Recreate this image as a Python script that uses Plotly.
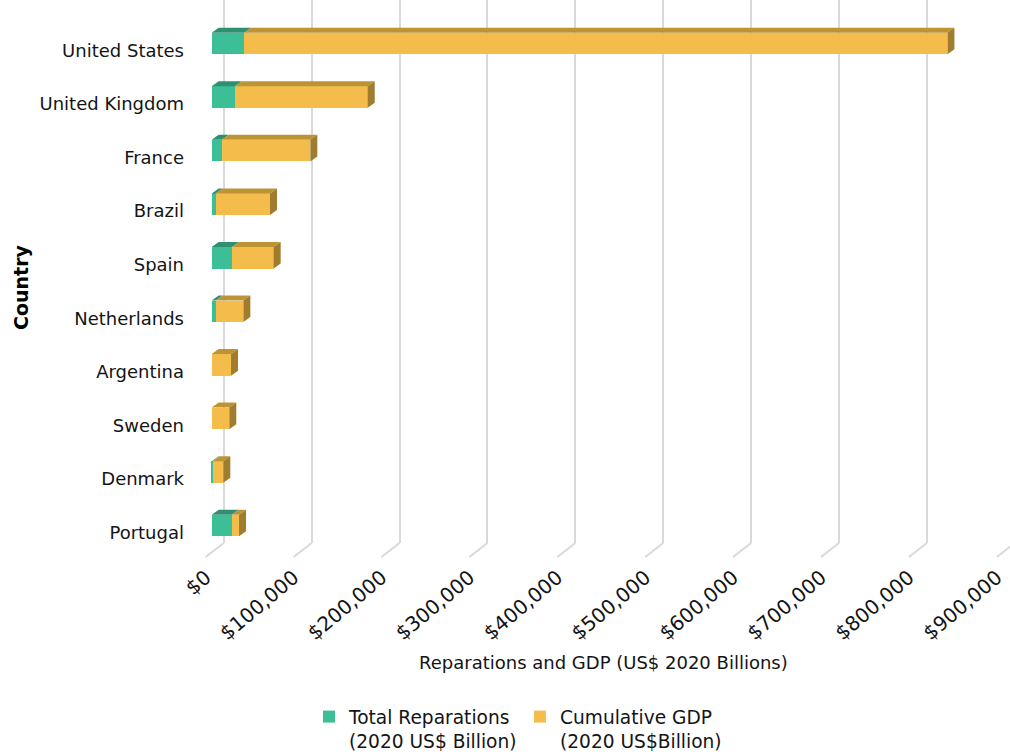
import plotly.graph_objects as go

# ---- data (US$ 2020 billions) ----
countries = ["United States", "United Kingdom", "France", "Brazil", "Spain",
             "Netherlands", "Argentina", "Sweden", "Denmark", "Portugal"]
reparations = [37000, 26500, 11400, 4600, 23100, 4600, 0, 0, 1000, 22800]
cumulative_gdp = [800000, 151000, 100800, 61700, 47400, 31400, 22000, 20000, 12200, 8300]
tick_values = [0, 100000, 200000, 300000, 400000, 500000, 600000, 700000, 800000, 900000]

series_names = ["Total Reparations<br>(2020 US$ Billion)", "Cumulative GDP<br>(2020 US$Billion)"]
x_title = "Reparations and GDP (US$ 2020 Billions)"
y_title = "Country"

# ---- colours ----
GREEN, GREEN_TOP = "#3CBE97", "#2E8F71"
YELLOW, YELLOW_TOP, YELLOW_SIDE = "#F4BD4B", "#BE9334", "#9F7C2E"
GRID = "#D9D9D9"
TEXT = "#141414"
FONT = "DejaVu Sans"

# ---- page geometry (px) ----
W, H = 1010, 755
L, R, T, B = 195, 1010, 0, 543
px_per_unit = 0.000879          # horizontal pixels per billion
front_origin = 211.7            # x pixel of zero on the bars' front plane
wall_shift = 12                 # back wall offset of the gridlines
floor_shift = -5.7              # front edge of the floor (tick labels)
row0, row_step = 43.5, 53.56    # y pixel of first row centre, row spacing
bar_px = 21.6                   # front-face thickness
depth_dx, depth_dy = 7, 5       # oblique depth of each bar

x_range = [(L - front_origin) / px_per_unit, (R - front_origin) / px_per_unit]
x_wall = [(L - front_origin - wall_shift) / px_per_unit, (R - front_origin - wall_shift) / px_per_unit]
x_floor = [(L - front_origin - floor_shift) / px_per_unit, (R - front_origin - floor_shift) / px_per_unit]
y_range = [(B - row0) / row_step, (T - row0) / row_step]

rows = list(range(len(countries)))
bar_w = bar_px / row_step
dx = depth_dx / px_per_unit
dy = depth_dy / row_step


def paper_x(px):
    return (px - L) / (R - L)


def paper_y(py):
    return (B - py) / (B - T)


def top_faces(starts, ends):
    xs, ys = [], []
    for i, a, b in zip(rows, starts, ends):
        if b - a <= 0:
            continue
        yt = i - bar_w / 2
        xs += [a, b, b + dx, a + dx, a, None]
        ys += [yt, yt, yt - dy, yt - dy, yt, None]
    return xs, ys


def side_faces(ends):
    xs, ys = [], []
    for i, b in zip(rows, ends):
        yt, yb = i - bar_w / 2, i + bar_w / 2
        xs += [b, b, b + dx, b + dx, b, None]
        ys += [yt, yb, yb - dy, yt - dy, yt, None]
    return xs, ys


totals = [r + g for r, g in zip(reparations, cumulative_gdp)]

fig = go.Figure()

fig.add_trace(go.Bar(y=rows, x=reparations, orientation="h", name=series_names[0],
                     marker=dict(color=GREEN, line=dict(width=0)), width=bar_w))
fig.add_trace(go.Bar(y=rows, x=cumulative_gdp, orientation="h", name=series_names[1],
                     marker=dict(color=YELLOW, line=dict(width=0)), width=bar_w))

for (xs, ys), col in [(top_faces([0] * len(rows), reparations), GREEN_TOP),
                      (top_faces(reparations, totals), YELLOW_TOP),
                      (side_faces(totals), YELLOW_SIDE)]:
    fig.add_trace(go.Scatter(x=xs, y=ys, mode="lines", fill="toself", fillcolor=col,
                             line=dict(width=0, color=col), showlegend=False,
                             hoverinfo="skip"))

# helper traces so the overlay axes exist
fig.add_trace(go.Scatter(x=[None], y=[None], xaxis="x2", showlegend=False, hoverinfo="skip"))
fig.add_trace(go.Scatter(x=[None], y=[None], xaxis="x3", showlegend=False, hoverinfo="skip"))

# floor edges of the gridlines
for v in tick_values:
    fig.add_shape(type="line", xref="x2", yref="paper", xsizemode="pixel", ysizemode="pixel",
                  xanchor=v, yanchor=0, x0=0, x1=-18, y0=0, y1=-14,
                  line=dict(color=GRID, width=2), layer="below")

# axis titles
fig.add_annotation(text=x_title, xref="paper", yref="paper",
                   x=paper_x(603), y=paper_y(662), xanchor="center", yanchor="middle",
                   showarrow=False, font=dict(size=18, color=TEXT))
fig.add_annotation(text="<b>" + y_title + "</b>", xref="paper", yref="paper",
                   x=paper_x(21), y=paper_y(287), xanchor="center", yanchor="middle",
                   textangle=-90, showarrow=False, font=dict(size=19, color="#000000"))

fig.update_layout(
    width=W, height=H,
    margin=dict(l=L, r=W - R, t=T, b=H - B),
    barmode="stack", bargap=0,
    plot_bgcolor="white", paper_bgcolor="white",
    font=dict(family=FONT, color=TEXT, size=16),
    xaxis=dict(range=x_range, showgrid=False, zeroline=False, showticklabels=False,
               showline=False, ticks=""),
    xaxis2=dict(range=x_wall, overlaying="x", showgrid=True, gridcolor=GRID, gridwidth=2,
                tickvals=tick_values, showticklabels=False, zeroline=False, showline=False),
    xaxis3=dict(range=x_floor, overlaying="x", side="bottom", showgrid=False, zeroline=False,
                tickvals=tick_values, tickformat="$,.0f", tickangle=-40, ticks="",
                ticklabelstandoff=18, tickfont=dict(size=20)),
    yaxis=dict(range=y_range, tickvals=rows, ticktext=countries, showgrid=False,
               zeroline=False, showline=False, ticks="", ticklabelstandoff=10,
               ticklabelshift=-7, tickfont=dict(size=18)),
    legend=dict(orientation="h", xref="container", yref="container", x=520 / W,
                xanchor="center", y=1 - 698 / H, yanchor="top", valign="top",
                font=dict(size=18.6), entrywidth=166, entrywidthmode="pixels",
                traceorder="normal"),
    showlegend=True,
)

fig.write_html("out.html")
